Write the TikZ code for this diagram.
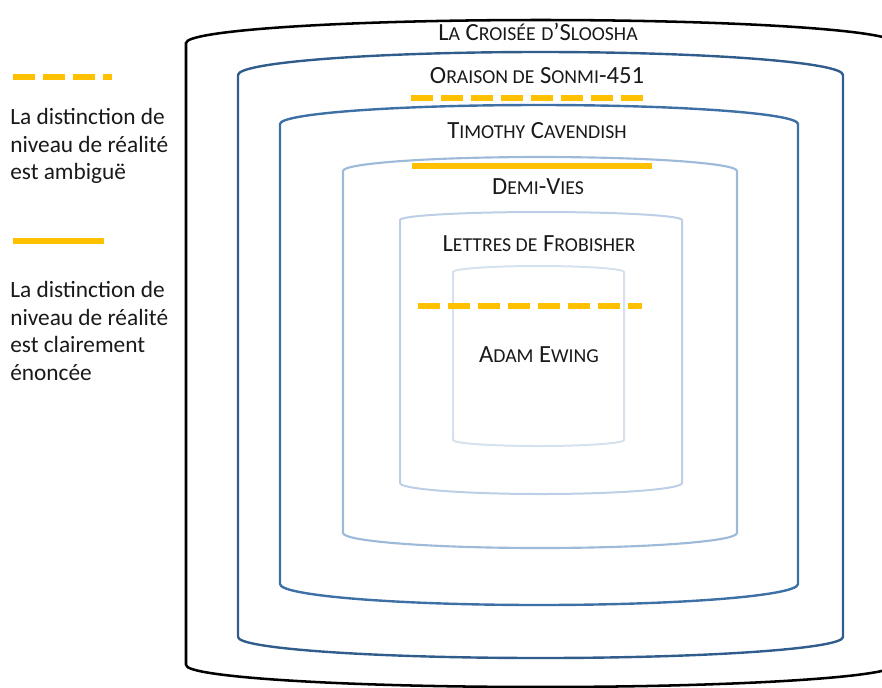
\documentclass[tikz,border=0pt]{standalone}
\usepackage{fontspec}
\setmainfont{Carlito}
\usepackage{tikz}

\definecolor{ocre}{RGB}{255,192,0}
\definecolor{bleuA}{RGB}{49,93,140}
\definecolor{bleuB}{RGB}{61,112,165}
\definecolor{bleuC}{RGB}{157,186,217}
\definecolor{bleuD}{RGB}{188,207,230}
\definecolor{bleuE}{RGB}{214,225,238}
\definecolor{encre}{RGB}{25,25,25}

% fake small capitals
\newcommand\petit[1]{{\fontsize{14.8}{15}\selectfont #1}}
% can shape: left, right, top corner, top rise, bottom corner, bottom drop
\newcommand\boite[7]{%
  \draw [#1] (#2,#6) -- (#2,#4)
    arc [start angle=180, end angle=360, x radius={(#3-#2)/2}, y radius=#5]
    -- (#3,#6)
    arc [start angle=0, end angle=180, x radius={(#3-#2)/2}, y radius=#7] ;}

\tikzset{
  titre/.style={inner sep=0.75pt, text=encre, font=\fontsize{18.5}{19}\selectfont},
  legende/.style={anchor=north west, inner sep=0.75pt, align=left, text=encre,
    font=\fontsize{17.5}{20.8}\selectfont},
  ambigu/.style={draw=ocre, line width=4.5pt, dash pattern=on 16.5pt off 6pt},
  clair/.style={draw=ocre, line width=4.5pt}
}

\begin{document}
\begin{tikzpicture}[x=0.75pt,y=0.75pt,yscale=-1,xscale=1]
        \path[use as bounding box] (0,0) rectangle (882,687);

        %Shape: Can [id:sloosha]
        \boite{black, line width=1.9pt}{186}{895}{43}{23}{665}{22}
        %Shape: Can [id:sonmi]
        \boite{bleuA, line width=1.8pt}{238}{843}{75}{23}{637}{21}
        %Shape: Can [id:cavendish]
        \boite{bleuB, line width=1.8pt}{280}{798}{124}{19}{584}{21}
        %Shape: Can [id:demivies]
        \boite{bleuC, line width=1.6pt}{343}{737}{171}{14}{533}{15}
        %Shape: Can [id:frobisher]
        \boite{bleuD, line width=1.5pt}{400}{682}{220}{8}{483}{11}
        %Shape: Can [id:ewing]
        \boite{bleuE, line width=1.5pt}{453}{624}{272}{6}{440}{6}

        %Straight Lines [id:ambigu1]
        \draw [ambigu] (411,98) -- (646,98) ;
        %Straight Lines [id:clair1]
        \draw [clair] (412,166) -- (652,166) ;
        %Straight Lines [id:ambigu2]
        \draw [ambigu] (418,306) -- (642,306) ;

        % Text Node
        \draw (538,32) node (tsloosha) [titre] {L\petit{A} C\petit{ROISÉE} \petit{D}’S\petit{LOOSHA}};
        % Text Node
        \draw (537,76) node (tsonmi) [titre] {O\petit{RAISON DE} S\petit{ONMI}-451};
        % Text Node
        \draw (537,131) node (tcavendish) [titre] {T\petit{IMOTHY} C\petit{AVENDISH}};
        % Text Node
        \draw (538,187) node (tdemivies) [titre] {D\petit{EMI}-V\petit{IES}};
        % Text Node
        \draw (539,244) node (tfrobisher) [titre] {L\petit{ETTRES DE} F\petit{ROBISHER}};
        % Text Node
        \draw (539,355) node (tewing) [titre] {A\petit{DAM} E\petit{WING}};

        %Straight Lines [id:legambigu]
        \draw [ambigu] (13,77) -- (112,77) ;
        %Straight Lines [id:legclair]
        \draw [clair] (13,241) -- (104,241) ;

        % Text Node
        \draw (9,107) node (lambigu) [legende] {La distinction de\\niveau de réalité\\est ambiguë};
        % Text Node
        \draw (9,280) node (lclair) [legende] {La distinction de\\niveau de réalité\\est clairement\\énoncée};

\end{tikzpicture}
\end{document}
